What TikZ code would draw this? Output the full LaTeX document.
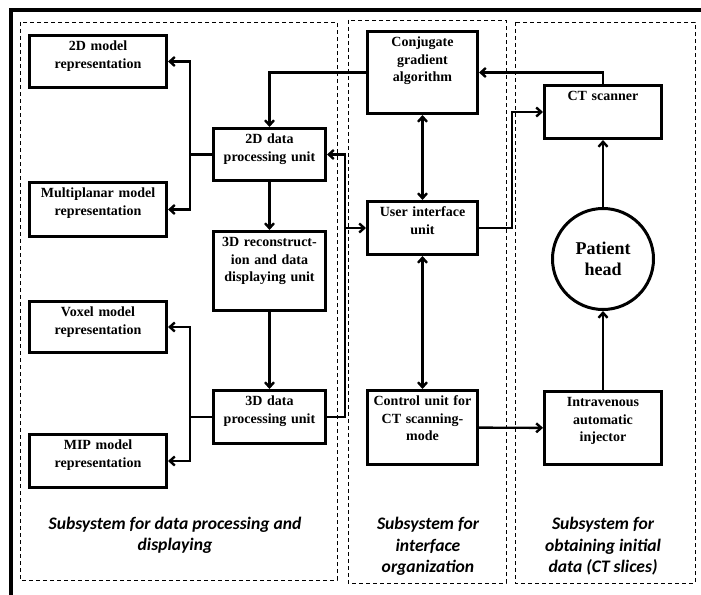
\documentclass[tikz,border=0pt]{standalone}
\usepackage{fontspec}
\setmainfont{Liberation Serif}
\newfontfamily\carlito{Carlito}
\usepackage{tikz}
\usetikzlibrary{arrows.meta,positioning}

\begin{document}
\begin{tikzpicture}[x=1pt, y=-1pt, >={Straight Barb[length=5pt,width=9pt]},
    box/.style 2 args={draw, line width=3pt, align=center, inner xsep=2pt, inner ysep=0pt,
      text width=#1, text height=15pt, text depth={#2-15pt}, font=\fontsize{14}{17.5}\selectfont\bfseries},
    head/.style={circle, draw, line width=3pt, minimum size=101pt, inner sep=0pt, align=center,
      font=\fontsize{18}{21}\selectfont\bfseries},
    panel/.style={draw, line width=0.9pt, dash pattern=on 4pt off 3pt},
    lbl/.style={align=center, font=\carlito\fontsize{17.6}{21.5}\selectfont\bfseries\itshape},
    conn/.style={line width=2.4pt}]
    \useasboundingbox (0,0) rectangle (701,594);
    \draw[line width=3.2pt] (11,600) -- (11,10) -- (701,10);
    % subsystems
    \draw[panel] (20,22) rectangle (337,580);
    \draw[panel] (348,20) rectangle (506,583);
    \draw[panel] (515,22) rectangle (695,583);
    % data processing and displaying
    \node[box={133pt}{52pt}] (m2d) at (98,61.5) {2D model\\representation};
    \node[box={133pt}{54pt}] (mmpr) [below=92pt of m2d] {Multiplanar model\\representation};
    \node[box={133pt}{51pt}] (vox) [below=62pt of mmpr] {Voxel model\\representation};
    \node[box={133pt}{53pt}] (mip) [below=79pt of vox] {MIP model\\representation};
    \node[box={108pt}{52pt}] (dp2) at (269.5,154.5) {2D data\\processing unit};
    \node[box={108pt}{79pt}] (rec3) [below=48pt of dp2] {3D reconstruct-\\ion and data\\displaying unit};
    \node[box={108pt}{53pt}] (dp3) [below=77pt of rec3] {3D data\\processing unit};
    % interface organization
    \node[box={106pt}{82pt}] (cga) at (422.5,72.5) {Conjugate\\gradient\\algorithm};
    \node[box={106pt}{53pt}] (ui) [below=85pt of cga] {User interface\\unit};
    \node[box={106pt}{74pt}] (ctl) [below=133pt of ui] {Control unit for\\CT scanning-\\mode};
    % obtaining initial data
    \node[box={113pt}{53pt}] (cts) at (603,112) {CT scanner};
    \node[head] (pat) [below=67pt of cts] {Patient\\head};
    \node[box={113pt}{73pt}] (inj) [below=79pt of pat] {Intravenous\\automatic\\injector};
    % captions
    \node[lbl] (lab1) at (175,535.5) {Subsystem for data processing and\\displaying};
    \node[lbl] (lab2) at (428,546.5) {Subsystem for\\interface\\organization};
    \node[lbl] (lab3) at (603,546.5) {Subsystem for\\obtaining initial\\data (CT slices)};
    % connections
    \draw[conn,->] (dp2.west) -- ++(-22,0) coordinate (j2) |- (m2d.east);
    \draw[conn,->] (j2) |- (mmpr.east);
    \draw[conn,->] (dp3.west) -- ++(-22,0) coordinate (j3) |- (vox.east);
    \draw[conn,->] (j3) |- (mip.east);
    \draw[conn,->] (dp2) -- (rec3);
    \draw[conn,->] (rec3) -- (dp3);
    \draw[conn,->] (cga.west) -| (dp2.north);
    \draw[conn,->] (dp3.east) -- ++(18,0) coordinate (bus) |- (dp2.east);
    \draw[conn,->] (bus |- ui.west) -- (ui.west);
    \draw[conn,<->] (cga) -- (ui);
    \draw[conn,<->] (ui) -- (ctl);
    \draw[conn,->] (ui.east) -- ++(33,0) |- (cts.west);
    \draw[conn,->] (cts.north) |- (cga.east);
    \draw[conn,->] (pat) -- (cts);
    \draw[conn,->] (inj) -- (pat);
    \draw[conn,->] (ctl) -- (inj);
\end{tikzpicture}
\end{document}
